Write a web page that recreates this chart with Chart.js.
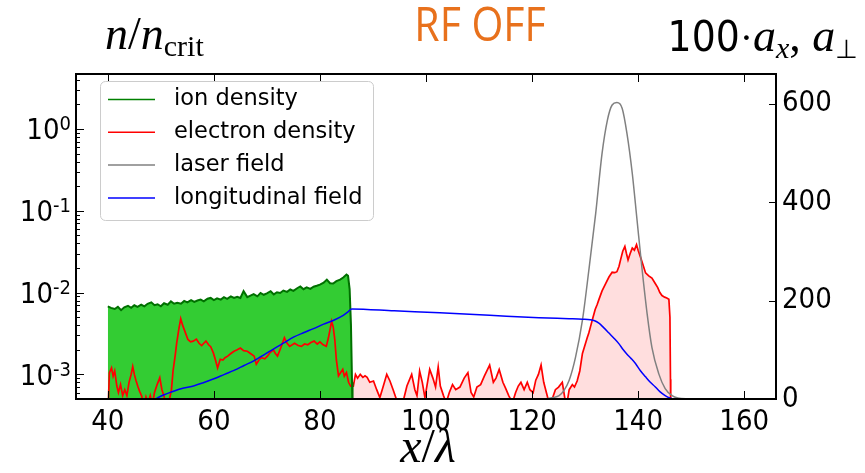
<!DOCTYPE html>
<html>
<head>
<meta charset="utf-8">
<script src="https://cdn.jsdelivr.net/npm/chart.js@4.4.1/dist/chart.umd.min.js"></script>
<style>
  html, body { margin: 0; padding: 0; background: #fff; }
  #wrap { width: 865px; height: 473px; }
</style>
</head>
<body>
<div id="wrap"><canvas id="c" width="865" height="473"></canvas></div>
<script>
// axis ticks
const xTicks = [40, 60, 80, 100, 120, 140, 160];
const leftTicks = [1e-3, 1e-2, 1e-1, 1];
const leftTickExps = ['-3', '-2', '-1', '0'];
const rightTicks = [0, 200, 400, 600];

// ion density (left, log)
const ionX = [40.0, 40.6, 41.3, 41.9, 42.5, 43.1, 43.8, 44.4, 45.0, 45.6, 46.3, 46.9, 47.5, 48.2, 48.8, 49.4,
  50.0, 50.6, 51.3, 51.9, 52.5, 53.1, 53.8, 54.4, 55.0, 55.7, 56.3, 56.9, 57.5, 58.1, 58.8, 59.4,
  60.0, 60.6, 61.3, 61.9, 62.5, 63.2, 63.8, 64.4, 65.0, 65.6, 66.3, 66.9, 67.5, 68.2, 68.8, 69.4,
  70.0, 70.7, 71.3, 71.9, 72.5, 73.1, 73.8, 74.4, 75.0, 75.7, 76.3, 76.9, 77.5, 78.2, 78.8, 79.4,
  80.0, 80.7, 81.3, 81.9, 82.5, 83.1, 83.8, 84.4, 85.0, 85.3, 85.6, 85.85, 86.05, 86.15];
const ionY = [0.0068, 0.0065, 0.0063, 0.0067, 0.0061, 0.0066, 0.0069, 0.0065, 0.0070, 0.0067, 0.0071, 0.0068, 0.0073, 0.0076, 0.0070, 0.0072,
  0.0068, 0.0074, 0.0071, 0.0078, 0.0073, 0.0075, 0.0073, 0.0079, 0.0076, 0.0081, 0.0077, 0.0080, 0.0082, 0.0078, 0.0084, 0.0086,
  0.0081, 0.0085, 0.0082, 0.0088, 0.0084, 0.0090, 0.0086, 0.0089, 0.0086, 0.0104, 0.0088, 0.0092, 0.0096, 0.0090, 0.0099, 0.0094,
  0.0098, 0.0104, 0.0095, 0.0101, 0.0099, 0.0106, 0.0102, 0.0109, 0.0105, 0.0113, 0.0119, 0.0110, 0.0116, 0.0111, 0.0118, 0.0121,
  0.0125, 0.0132, 0.0144, 0.0130, 0.0129, 0.0138, 0.0144, 0.0153, 0.0166, 0.0160, 0.0110, 0.0040, 0.0008, 0.0003];

// electron density (left, log)
const elecX = [40.0, 40.3, 40.7, 41.0, 41.3, 41.7, 42.0, 42.4, 42.8, 43.2, 43.6, 44.0, 44.4, 44.7, 45.0, 45.3, 45.7, 46.0, 46.4, 46.8,
  47.2, 47.6, 48.0, 48.4, 48.8, 49.3, 49.8, 50.2, 50.6, 51.0, 51.5, 52.0, 52.3, 52.7, 53.0, 53.4, 53.75, 54.1, 54.5, 55.1,
  55.6, 56.1, 56.7, 57.2, 57.7, 58.1, 58.5, 59.0, 59.4, 59.9, 60.3, 60.7, 61.2, 61.7, 62.1, 62.6, 63.2, 63.8, 64.4, 65.0,
  65.6, 66.3, 66.9, 67.6, 68.0, 68.5, 69.0, 69.6, 70.1, 70.6, 71.2, 71.6, 72.0, 72.6, 73.3, 73.8, 74.3, 75.2, 75.9, 76.5,
  77.1, 77.7, 78.3, 78.9, 79.5, 80.0, 80.6, 81.2, 81.6, 82.0, 82.2, 82.5, 82.8, 83.1, 83.5, 83.9, 84.3, 84.6, 85.0, 85.4,
  85.8, 86.3, 86.7, 87.1, 87.6, 88.1, 88.5, 88.9, 89.4, 90.1, 90.7, 91.3, 91.9, 92.6, 93.2, 93.8, 94.4, 95.1, 95.8, 96.4,
  97.3, 97.9, 98.3, 98.8, 99.3, 99.8, 100.7, 101.3, 101.8, 102.3, 102.7, 103.3, 103.8, 104.4, 105.0, 105.6, 106.4, 107.2, 107.9, 108.5,
  109.0, 109.6, 110.3, 111.0, 112.0, 112.7, 113.2, 113.8, 114.5, 115.0, 115.6, 116.3, 116.9, 117.4, 117.9, 118.5, 119.1, 119.6, 120.2, 120.7,
  121.2, 121.7, 122.2, 122.7, 123.2, 123.8, 124.4, 125.0, 125.7, 126.2, 126.6, 127.0, 127.6, 128.0, 128.5, 129.0, 129.5, 130.0, 130.4, 130.7,
  131.1, 131.5, 131.9, 132.3, 132.6, 133.2, 133.9, 134.5, 135.1, 135.6, 136.0, 136.4, 136.7, 137.1, 137.5, 137.8, 138.1, 138.5, 138.9, 139.3,
  139.7, 140.0, 140.4, 140.9, 141.4, 142.0, 142.6, 143.2, 143.7, 144.1, 144.5, 145.0, 145.4, 145.8, 146.0, 146.1, 146.15];
const elecY = [0.0003, 0.00105, 0.0012, 0.00095, 0.0011, 0.00072, 0.0006, 0.00075, 0.00055, 0.00065, 0.00055, 0.0008, 0.001, 0.00125, 0.001, 0.00085, 0.0007, 0.00062, 0.00054, 0.0004,
  0.00053, 0.00045, 0.00055, 0.00042, 0.0006, 0.00075, 0.00091, 0.00065, 0.00054, 0.0004, 0.00045, 0.00065, 0.0011, 0.0017, 0.00245, 0.0036, 0.0048, 0.004, 0.0034, 0.00267,
  0.0025, 0.00255, 0.0027, 0.0024, 0.00225, 0.0024, 0.00255, 0.0023, 0.00218, 0.00183, 0.0015, 0.0012, 0.00153, 0.0015, 0.0016, 0.00167, 0.0018, 0.00192, 0.002, 0.0021,
  0.00195, 0.00192, 0.0018, 0.00167, 0.00133, 0.0015, 0.0016, 0.00155, 0.00167, 0.00185, 0.002, 0.0018, 0.00167, 0.0021, 0.0028, 0.0024, 0.0022, 0.0024, 0.00225, 0.0022,
  0.00235, 0.0023, 0.00245, 0.00255, 0.00235, 0.0025, 0.0023, 0.0022, 0.0028, 0.0038, 0.00447, 0.0038, 0.00267, 0.0015, 0.00096, 0.00105, 0.00115, 0.00095, 0.00105, 0.0008,
  0.00072, 0.00072, 0.001, 0.0009, 0.001, 0.00092, 0.00096, 0.00092, 0.0008, 0.00083, 0.00065, 0.00052, 0.0007, 0.001, 0.00083, 0.00065, 0.0005, 0.0004, 0.0005, 0.00072,
  0.001, 0.00065, 0.00055, 0.0011, 0.0008, 0.00052, 0.00115, 0.0009, 0.0007, 0.00123, 0.00072, 0.00055, 0.00045, 0.0006, 0.00075, 0.00065, 0.0007, 0.0009, 0.00105, 0.0006,
  0.00053, 0.0007, 0.00075, 0.00095, 0.0013, 0.0008, 0.0009, 0.00115, 0.0008, 0.00068, 0.00055, 0.00045, 0.0006, 0.00072, 0.0008, 0.00065, 0.0008, 0.00065, 0.0006, 0.00085,
  0.001, 0.0013, 0.0008, 0.0006, 0.00045, 0.0005, 0.00065, 0.0007, 0.0008, 0.0005, 0.00045, 0.00065, 0.00075, 0.0007, 0.00083, 0.0011, 0.0018, 0.0023, 0.0028, 0.0032,
  0.004, 0.005, 0.0062, 0.0072, 0.0082, 0.0105, 0.013, 0.0155, 0.0177, 0.0175, 0.018, 0.021, 0.0253, 0.032, 0.0367, 0.030, 0.025, 0.030, 0.035, 0.033,
  0.0385, 0.033, 0.0277, 0.022, 0.0174, 0.016, 0.015, 0.013, 0.0115, 0.010, 0.0092, 0.0088, 0.0086, 0.0083, 0.005, 0.00087, 0.0003];

// laser field (right)
const laserX = [118, 122, 123, 124, 125.1, 126, 127.0, 128.2, 129.5, 130.7, 132.0, 133.2, 134.2, 135.1, 136.0, 137.0,
  137.9, 138.9, 139.8, 140.7, 141.7, 142.6, 143.9, 145.1, 146.4, 147.5, 149, 160];
const laserY = [0, 0.5, 1, 3, 7, 17, 38, 85, 160, 261, 377, 499, 566, 597, 602, 590,
  539, 458, 363, 268, 173, 105, 51, 21, 7, 2, 0.5, 0];

// longitudinal field (right)
const longX = [49.0, 49.5, 50.5, 51.9, 53.8, 56.3, 58.0, 60.0, 62.0, 63.8, 65.7, 67.6, 69.5, 71.3, 73.2, 75.1, 77.0, 78.8,
  80.7, 82.6, 84.4, 85.3, 86.0, 94, 102.6, 112, 121.3, 127, 129.5, 131.0, 131.8, 132.6, 133.5, 134.5, 135.4, 136.4,
  137.2, 137.9, 138.7, 139.5, 140.4, 141.4, 142.3, 143.2, 144.1, 145.1, 146.0, 146.8, 160];
const longY = [0, 3, 8, 14, 21, 27, 33, 41, 50, 58, 68, 78, 90, 102, 114, 126, 135, 143,
  152, 160, 170, 177, 183, 179, 175, 170, 165, 163, 162, 161, 159, 154, 145, 134, 124, 112,
  100, 91, 82, 72, 58, 45, 34, 25, 15, 7, 2, 0, 0];

const zip = (xs, ys) => xs.map((x, i) => ({ x, y: ys[i] }));

const SERIF = "'Liberation Serif', 'DejaVu Serif', serif";
const SANS = "'DejaVu Sans Condensed', 'DejaVu Sans', sans-serif";

const drawRuns = (ctx, runs, x, y, align) => {
    let total = 0;
    runs.forEach((r) => {
        ctx.font = r.font;
        r.w = ctx.measureText(r.text).width;
        total += r.w;
    });
    let cx = align === "right" ? x - total : align === "center" ? x - total / 2 : x;
    runs.forEach((r) => {
        ctx.font = r.font;
        ctx.fillStyle = r.color || "#000";
        ctx.fillText(r.text, cx, y + (r.dy || 0));
        cx += r.w;
    });
};

const background = {
    id: "background",
    beforeDraw(chart) {
        const { ctx, width, height } = chart;
        ctx.save();
        ctx.fillStyle = "#fff";
        ctx.fillRect(0, 0, width, height);
        ctx.restore();
    },
};

const frameTicks = {
    id: "frameTicks",
    afterDatasetsDraw(chart) {
        const { ctx, chartArea: a, scales } = chart;
        ctx.save();
        ctx.strokeStyle = "#000";
        ctx.lineWidth = 1;
        ctx.beginPath();
        xTicks.forEach((v) => {
            const px = Math.round(scales.x.getPixelForValue(v)) + 0.5;
            ctx.moveTo(px, a.bottom); ctx.lineTo(px, a.bottom - 8);
            ctx.moveTo(px, a.top); ctx.lineTo(px, a.top + 8);
        });
        scales.y.ticks.forEach((t) => {
            const py = Math.round(scales.y.getPixelForValue(t.value)) + 0.5;
            const len = t.major ? 8 : 4;
            ctx.moveTo(a.left, py); ctx.lineTo(a.left + len, py);
        });
        rightTicks.forEach((v) => {
            const py = Math.round(scales.y2.getPixelForValue(v)) + 0.5;
            ctx.moveTo(a.right, py); ctx.lineTo(a.right - 7, py);
        });
        ctx.stroke();
        ctx.lineWidth = 2;
        ctx.strokeRect(a.left, a.top, a.right - a.left, a.bottom - a.top);

        // log tick labels with raised exponents
        ctx.textBaseline = "alphabetic";
        leftTicks.forEach((v, i) => {
            const py = scales.y.getPixelForValue(v);
            drawRuns(ctx, [
                { text: "10", font: `29px ${SANS}` },
                { text: leftTickExps[i], font: `20px ${SANS}`, dy: -9 },
            ], a.left - 5, py + 10.5, "right");
        });
        ctx.restore();
    },
};

const annotations = {
    id: "annotations",
    afterDraw(chart) {
        const { ctx } = chart;
        ctx.save();
        ctx.textBaseline = "alphabetic";
        drawRuns(ctx, [
            { text: "n", font: `italic 46px ${SERIF}` },
            { text: "/", font: `46px ${SERIF}` },
            { text: "n", font: `italic 46px ${SERIF}` },
            { text: "crit", font: `30px ${SERIF}`, dy: 7 },
        ], 105, 49, "left");

        ctx.save();
        ctx.translate(480, 41);
        ctx.scale(1, 1.15);
        drawRuns(ctx, [
            { text: "RF OFF", font: `41px 'Open Sans', sans-serif`, color: "#e8711c" },
        ], 0, 0, "center");
        ctx.restore();

        drawRuns(ctx, [
            { text: "100", font: `42px ${SANS}` },
            { text: "\u00B7", font: `40px ${SERIF}` },
            { text: "a", font: `italic 46px ${SERIF}` },
            { text: "x", font: `italic 30px ${SERIF}`, dy: 7 },
            { text: ", ", font: `46px ${SERIF}` },
            { text: "a", font: `italic 46px ${SERIF}` },
            { text: "\u22A5", font: `26px 'DejaVu Sans', sans-serif`, dy: 7 },
        ], 858, 51, "right");
        drawRuns(ctx, [
            { text: "x", font: `italic 48px ${SERIF}` },
            { text: "/", font: `48px ${SERIF}` },
            { text: "\u03BB", font: `italic 48px ${SERIF}` },
        ], 428, 462, "center");

        // legend box
        const lx = 100.5, ly = 81.5, lw = 273, lh = 139, r = 5;
        ctx.beginPath();
        ctx.moveTo(lx + r, ly);
        ctx.arcTo(lx + lw, ly, lx + lw, ly + lh, r);
        ctx.arcTo(lx + lw, ly + lh, lx, ly + lh, r);
        ctx.arcTo(lx, ly + lh, lx, ly, r);
        ctx.arcTo(lx, ly, lx + lw, ly, r);
        ctx.closePath();
        ctx.fillStyle = "rgba(255,255,255,0.85)";
        ctx.fill();
        ctx.strokeStyle = "#cccccc";
        ctx.lineWidth = 1;
        ctx.stroke();
        ctx.font = "22.5px 'DejaVu Sans', sans-serif";
        ctx.textBaseline = "middle";
        chart.data.datasets.forEach((ds, i) => {
            const yy = 99.5 + i * 32.8;
            ctx.strokeStyle = ds.legendColor || ds.borderColor;
            ctx.lineWidth = 1.5;
            ctx.beginPath();
            ctx.moveTo(108, yy); ctx.lineTo(155, yy);
            ctx.stroke();
            ctx.fillStyle = "#000";
            ctx.fillText(ds.label, 174, yy);
        });
        ctx.restore();
    },
};

new Chart(document.getElementById("c"), {
    type: "line",
    data: {
        datasets: [
            {
                label: "ion density",
                data: zip(ionX, ionY),
                yAxisID: "y",
                borderColor: "#007000",
                legendColor: "#008000",
                borderWidth: 2,
                backgroundColor: "#33cc33",
                fill: "start",
                order: 2,
            },
            {
                label: "electron density",
                data: zip(elecX, elecY),
                yAxisID: "y",
                borderColor: "#ff0000",
                borderWidth: 1.7,
                backgroundColor: "rgba(255,0,0,0.13)",
                fill: "start",
                order: 3,
            },
            {
                label: "laser field",
                data: zip(laserX, laserY),
                yAxisID: "y2",
                borderColor: "#808080",
                cubicInterpolationMode: "monotone",
                fill: false,
                order: 1,
            },
            {
                label: "longitudinal field",
                data: zip(longX, longY),
                yAxisID: "y2",
                borderColor: "#0000ff",
                cubicInterpolationMode: "monotone",
                fill: false,
                order: 0,
            },
        ],
    },
    options: {
        responsive: false,
        animation: false,
        layout: { padding: { top: 74, left: 0, right: 0, bottom: 0 } },
        elements: {
            point: { radius: 0 },
            line: { borderWidth: 1.5, tension: 0 },
        },
        plugins: {
            legend: { display: false },
            tooltip: { enabled: false },
            filler: { drawTime: "beforeDatasetsDraw" },
        },
        scales: {
            x: {
                type: "linear",
                min: 34,
                max: 166,
                grid: { display: false, drawTicks: false },
                border: { display: false },
                afterBuildTicks: (s) => { s.ticks = xTicks.map((v) => ({ value: v })); },
                afterFit: (s) => { s.height = 74; },
                ticks: {
                    autoSkip: false,
                    maxRotation: 0,
                    padding: 6,
                    color: "#000",
                    font: { family: SANS, size: 29 },
                },
            },
            y: {
                type: "logarithmic",
                position: "left",
                min: 5e-4,
                max: 4.7,
                grid: { display: false, drawTicks: false },
                border: { display: false },
                afterBuildTicks: (s) => {
                    const t = [];
                    for (let k = -4; k <= 0; k++) {
                        for (let m = 1; m <= 9; m++) {
                            const v = parseFloat((m * Math.pow(10, k)).toPrecision(6));
                            if (v >= 5e-4 && v <= 4.7) t.push({ value: v, major: m === 1 });
                        }
                    }
                    s.ticks = t;
                },
                afterFit: (s) => { s.width = 76; },
                ticks: { display: false, autoSkip: false },
            },
            y2: {
                type: "linear",
                position: "right",
                min: 0,
                max: 660,
                grid: { display: false, drawTicks: false },
                border: { display: false },
                afterBuildTicks: (s) => { s.ticks = rightTicks.map((v) => ({ value: v })); },
                afterFit: (s) => { s.width = 89; },
                ticks: {
                    autoSkip: false,
                    padding: 6,
                    color: "#000",
                    font: { family: SANS, size: 29 },
                },
            },
        },
    },
    plugins: [background, frameTicks, annotations],
});
</script>
</body>
</html>
